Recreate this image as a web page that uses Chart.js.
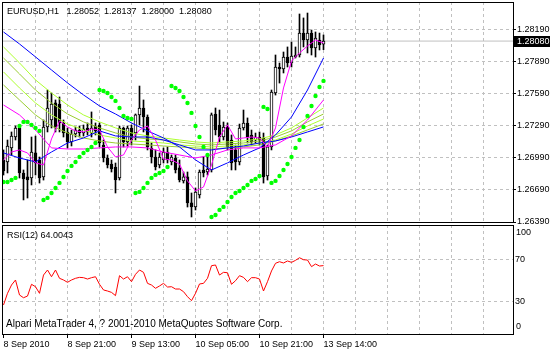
<!DOCTYPE html>
<html>
<head>
<meta charset="utf-8">
<script src="https://cdn.jsdelivr.net/npm/chart.js@4.4.0/dist/chart.umd.min.js"></script>
<style>
  html, body { margin: 0; padding: 0; background: #fff; }
  #wrap { position: relative; width: 550px; height: 351px; overflow: hidden; }
  canvas { position: absolute; left: 0; }
  #main { top: 0; }
  #rsi { top: 223px; }
</style>
</head>
<body>
<div id="wrap">
  <canvas id="main" width="550" height="227"></canvas>
  <canvas id="rsi" width="550" height="128"></canvas>
</div>
<script>
const symbol = 'EURUSD,H1';
const copyright = 'Alpari MetaTrader 4, ? 2001-2010 MetaQuotes Software Corp.';
const timeLabels = ['8 Sep 2010', '8 Sep 21:00', '9 Sep 13:00', '10 Sep 05:00', '10 Sep 21:00', '13 Sep 14:00'];
const labelBars = [0, 16, 32, 48, 64, 80];
const gridBars = [8, 16, 24, 32, 40, 48, 56, 64, 72, 80, 88, 96, 104, 112, 120];
const priceTicks = [1.26390, 1.26690, 1.26990, 1.27290, 1.27590, 1.27890, 1.28190];
const rsiTicks = [30, 70];

// H1 candles
const openP = [
  1.26969, 1.26951, 1.27081, 1.27184, 1.27268, 1.26848, 1.26811, 1.26801, 1.27035, 1.26969,
  1.26811, 1.27277, 1.27343, 1.27502, 1.27492, 1.27315, 1.27231, 1.27137, 1.27212, 1.27249,
  1.27221, 1.27268, 1.27221, 1.27287, 1.27296, 1.27109, 1.26988, 1.26932, 1.26904, 1.26801,
  1.27268, 1.27137, 1.27268, 1.27221, 1.27390, 1.27455, 1.27371, 1.27081, 1.26997, 1.26923,
  1.26969, 1.27044, 1.26951, 1.26988, 1.26895, 1.26773, 1.26811, 1.26568, 1.26530, 1.26642,
  1.26876, 1.26857, 1.26876, 1.27399, 1.27296, 1.27184, 1.27277, 1.27156, 1.27063, 1.26951,
  1.27268, 1.27315, 1.27203, 1.27156, 1.27184, 1.27175, 1.26820, 1.27091, 1.27595, 1.27838,
  1.27819, 1.27931, 1.27875, 1.27931, 1.27950, 1.28155, 1.28090, 1.28155, 1.28015, 1.28090,
  1.28052
];
const highP = [
  1.27063, 1.27156, 1.27231, 1.27287, 1.27287, 1.26876, 1.26969, 1.27184, 1.27193, 1.26997,
  1.27343, 1.27623, 1.27595, 1.27530, 1.27558, 1.27343, 1.27268, 1.27249, 1.27277, 1.27287,
  1.27296, 1.27315, 1.27418, 1.27315, 1.27315, 1.27156, 1.27016, 1.26969, 1.26941, 1.27287,
  1.27277, 1.27287, 1.27296, 1.27399, 1.27660, 1.27530, 1.27390, 1.27128, 1.27063, 1.27035,
  1.27081, 1.27091, 1.27016, 1.27016, 1.26969, 1.26857, 1.26857, 1.26661, 1.26708, 1.26876,
  1.26997, 1.26997, 1.27408, 1.27455, 1.27436, 1.27324, 1.27315, 1.27203, 1.27109, 1.27305,
  1.27436, 1.27362, 1.27249, 1.27221, 1.27231, 1.27221, 1.27109, 1.27623, 1.27950, 1.27875,
  1.27978, 1.28025, 1.28071, 1.28025, 1.28333, 1.28296, 1.28342, 1.28183, 1.28165, 1.28155,
  1.28137
];
const lowP = [
  1.26829, 1.26848, 1.27016, 1.27156, 1.26801, 1.26596, 1.26614, 1.26736, 1.26829, 1.26754,
  1.26782, 1.27231, 1.27268, 1.27231, 1.27231, 1.27184, 1.27081, 1.27100, 1.27184, 1.27184,
  1.27193, 1.27203, 1.27184, 1.27203, 1.27091, 1.26951, 1.26895, 1.26857, 1.26661, 1.26782,
  1.27091, 1.27100, 1.27109, 1.27156, 1.27296, 1.27231, 1.27063, 1.26941, 1.26876, 1.26895,
  1.26941, 1.26941, 1.26923, 1.26848, 1.26764, 1.26754, 1.26530, 1.26437, 1.26502, 1.26614,
  1.26811, 1.26829, 1.26857, 1.27203, 1.27128, 1.27156, 1.27063, 1.26876, 1.26876, 1.26923,
  1.27249, 1.27128, 1.27109, 1.27128, 1.27109, 1.26754, 1.26782, 1.27063, 1.27576, 1.27688,
  1.27782, 1.27838, 1.27838, 1.27922, 1.27931, 1.28025, 1.27969, 1.27950, 1.27931, 1.27997,
  1.28000
];
const closeP = [
  1.26867, 1.27100, 1.27193, 1.27268, 1.26848, 1.26792, 1.26782, 1.27044, 1.26941, 1.26801,
  1.27277, 1.27455, 1.27492, 1.27268, 1.27315, 1.27221, 1.27137, 1.27212, 1.27249, 1.27221,
  1.27259, 1.27231, 1.27268, 1.27240, 1.27128, 1.26988, 1.26923, 1.26885, 1.26782, 1.27268,
  1.27137, 1.27268, 1.27156, 1.27390, 1.27455, 1.27371, 1.27091, 1.26997, 1.26904, 1.26997,
  1.27044, 1.26969, 1.26997, 1.26876, 1.26782, 1.26811, 1.26568, 1.26530, 1.26670, 1.26857,
  1.26848, 1.26885, 1.27390, 1.27249, 1.27184, 1.27277, 1.27091, 1.26941, 1.26951, 1.27268,
  1.27315, 1.27184, 1.27137, 1.27184, 1.27156, 1.26811, 1.27091, 1.27604, 1.27838, 1.27819,
  1.27931, 1.27875, 1.27941, 1.27950, 1.28155, 1.28090, 1.28155, 1.28015, 1.28109, 1.28043,
  1.28080
];

// parabolic SAR, one dot per bar
const sar = [
  1.26764, 1.26764, 1.26783, 1.26802, 1.27287, 1.27325, 1.27325, 1.27297, 1.27269, 1.27241,
  1.26596, 1.26615, 1.26661, 1.26708, 1.26755, 1.26811, 1.26867, 1.26914, 1.26951, 1.26998,
  1.27035, 1.27063, 1.27091, 1.27128, 1.27623, 1.27614, 1.27595, 1.27558, 1.27521, 1.27455,
  1.27381, 1.27362, 1.27352, 1.26661, 1.26671, 1.26708, 1.26755, 1.26802, 1.26830, 1.26848,
  1.26867, 1.26904, 1.27661, 1.27642, 1.27614, 1.27558, 1.27502, 1.27409, 1.27287, 1.27184,
  1.27091, 1.27016, 1.26437, 1.26456, 1.26503, 1.26531, 1.26577, 1.26624, 1.26661, 1.26680,
  1.26708, 1.26736, 1.26774, 1.26792, 1.26820, 1.27465, 1.27446, 1.26755, 1.26774, 1.26820,
  1.26876, 1.26932, 1.26998, 1.27082, 1.27156, 1.27278, 1.27381, 1.27474, 1.27567, 1.27651,
  1.27708
];

// moving averages, read every 4th bar (fast one every 2nd bar)
const maBars = [0, 4, 8, 12, 16, 20, 24, 28, 32, 36, 40, 44, 48, 52, 56, 60, 64, 68, 72, 76, 80];
const fastBars = [0, 2, 4, 6, 8, 10, 12, 14, 16, 18, 20, 22, 24, 26, 28, 30, 32, 34, 36, 38, 40,
  42, 44, 46, 48, 50, 52, 54, 56, 58, 60, 62, 64, 66, 68, 70, 72, 74, 76, 78, 80];
const blueA = [1.28165, 1.28053, 1.27932, 1.27810, 1.27689, 1.27577, 1.27474, 1.27399, 1.27315, 1.27241,
  1.27175, 1.27091, 1.26970, 1.26876, 1.26942, 1.27016, 1.27082, 1.27203, 1.27371, 1.27623, 1.27922];
const blueB = [1.27035, 1.26988, 1.26951, 1.27044, 1.27128, 1.27175, 1.27241, 1.27194, 1.27184, 1.27184,
  1.27156, 1.27110, 1.27063, 1.27063, 1.27082, 1.27100, 1.27128, 1.27147, 1.27184, 1.27231, 1.27278];
const magentaSlow = [1.27483, 1.27390, 1.27250, 1.27082, 1.27072, 1.27072, 1.27082, 1.27091, 1.27091, 1.27082,
  1.27044, 1.27016, 1.26988, 1.27016, 1.27063, 1.27082, 1.27082, 1.27110, 1.27194, 1.27343, 1.27530];
const magentaFast = [
  1.26970, 1.27044, 1.27063, 1.27035, 1.26942, 1.26923, 1.27166, 1.27334, 1.27278, 1.27241,
  1.27231, 1.27259, 1.27250, 1.27091, 1.26998, 1.27016, 1.27156, 1.27250, 1.27287, 1.27156,
  1.26979, 1.26970, 1.26932, 1.26774, 1.26680, 1.26717, 1.26923, 1.27184, 1.27297, 1.27166,
  1.27175, 1.27184, 1.27175, 1.27091, 1.27269, 1.27642, 1.27894, 1.27969, 1.28034, 1.28090,
  1.28062
];
const green1 = [1.28025, 1.27876, 1.27717, 1.27595, 1.27483, 1.27390, 1.27325, 1.27269, 1.27222, 1.27194,
  1.27175, 1.27156, 1.27138, 1.27128, 1.27138, 1.27147, 1.27166, 1.27203, 1.27269, 1.27362, 1.27455];
const green2 = [1.27922, 1.27773, 1.27623, 1.27502, 1.27399, 1.27325, 1.27269, 1.27222, 1.27184, 1.27166,
  1.27156, 1.27138, 1.27119, 1.27110, 1.27119, 1.27128, 1.27147, 1.27184, 1.27241, 1.27325, 1.27399];
const green3 = [1.27792, 1.27642, 1.27502, 1.27390, 1.27306, 1.27250, 1.27203, 1.27175, 1.27147, 1.27138,
  1.27128, 1.27110, 1.27100, 1.27091, 1.27100, 1.27110, 1.27128, 1.27156, 1.27212, 1.27287, 1.27352];
const green4 = [1.27670, 1.27530, 1.27390, 1.27287, 1.27222, 1.27175, 1.27147, 1.27128, 1.27119, 1.27110,
  1.27100, 1.27091, 1.27082, 1.27072, 1.27082, 1.27091, 1.27110, 1.27147, 1.27194, 1.27250, 1.27306];

// RSI(12)
const rsi = [
  26.5, 37.6, 45.5, 50.3, 36.0, 33.4, 35.0, 46.2, 43.9, 37.6,
  55.0, 59.8, 53.4, 59.8, 51.9, 50.3, 48.1, 50.3, 51.9, 52.8,
  52.5, 51.2, 52.5, 53.4, 46.2, 40.8, 39.8, 38.5, 35.4, 54.4,
  51.2, 53.4, 48.7, 55.7, 59.8, 57.6, 47.1, 45.5, 42.4, 44.6,
  47.1, 43.6, 43.9, 41.7, 41.7, 39.2, 34.4, 30.6, 37.6, 46.5,
  47.1, 51.9, 63.9, 64.6, 55.0, 57.6, 57.2, 46.2, 49.6, 54.4,
  52.8, 48.7, 52.5, 52.5, 51.2, 39.8, 48.7, 58.9, 66.2, 67.7,
  66.5, 68.4, 67.1, 69.0, 71.5, 69.6, 69.3, 63.0, 65.5, 63.6,
  64.0043
];

const bars = closeP.map((_, i) => i);
const X_MIN = -0.375, X_MAX = 127.375;   // 4px per bar
const GRID = '#c0c0c0';
const CLEAR = 'rgba(0,0,0,0)';
const FONT = { family: '"Liberation Sans", Arial, sans-serif', size: 9 };
const FONT_CSS = '9px "Liberation Sans", Arial, sans-serif';
const FONT_CSS_10 = '10px "Liberation Sans", Arial, sans-serif';

function pts(xs, ys) {
  return xs.map((x, k) => ({ x: x, y: ys[k] }));
}
function lineSet(label, xs, ys, color, order) {
  return { type: 'line', label, data: pts(xs, ys), borderColor: color, borderWidth: 1,
           pointRadius: 0, tension: 0, fill: false, order };
}
// stop the scales from pushing the plot area in for half-label room
function noPad(s) {
  s.paddingTop = 0; s.paddingBottom = 0; s.paddingLeft = 0; s.paddingRight = 0;
}

const mainFrame = {
  id: 'mainFrame',
  afterDraw(chart) {
    const { ctx, chartArea: a } = chart;
    const last = closeP[closeP.length - 1];
    const py = Math.round(chart.scales.y.getPixelForValue(last));
    ctx.save();
    ctx.strokeStyle = '#000';
    ctx.lineWidth = 1;
    ctx.strokeRect(a.left + 0.5, a.top + 0.5, a.right - a.left, a.bottom - a.top);
    ctx.font = FONT_CSS;
    ctx.textBaseline = 'middle';
    ctx.fillStyle = '#000';
    const ohlc = [openP, highP, lowP, closeP].map(s => s[s.length - 1].toFixed(5)).join('  ');
    ctx.fillText(symbol + '   ' + ohlc, 7, 12);
    // bid tag on the price scale
    ctx.fillRect(a.right + 1, py - 5, 550 - a.right - 1, 11);
    ctx.fillStyle = '#fff';
    ctx.fillText(last.toFixed(5), a.right + 4, py + 0.5);
    ctx.restore();
  }
};

const rsiFrame = {
  id: 'rsiFrame',
  afterDraw(chart) {
    const { ctx, chartArea: a } = chart;
    const ys = chart.scales.y;
    ctx.save();
    ctx.strokeStyle = '#000';
    ctx.lineWidth = 1;
    ctx.strokeRect(a.left + 0.5, a.top + 0.5, a.right - a.left, a.bottom - a.top);
    ctx.font = FONT_CSS;
    ctx.textBaseline = 'middle';
    ctx.fillStyle = '#000';
    ctx.fillText('RSI(12) ' + rsi[rsi.length - 1].toFixed(4), 7, a.top + 11);
    // MetaTrader keeps the 0 and 100 labels inside the window
    ctx.fillText('100', a.right + 3, ys.getPixelForValue(100) + 5);
    ctx.fillText('0', a.right + 3, ys.getPixelForValue(0) - 6);
    ctx.font = FONT_CSS_10;
    ctx.fillText(copyright, 6, a.bottom - 9.5);
    ctx.restore();
  }
};

new Chart(document.getElementById('main'), {
  type: 'bar',
  data: {
    datasets: [
      { type: 'line', label: 'Bid', data: [{ x: X_MIN, y: closeP[80] }, { x: X_MAX, y: closeP[80] }],
        borderColor: GRID, borderWidth: 1, pointRadius: 0, order: 30 },
      { type: 'bar', label: 'Wick', data: bars.map(i => ({ x: i, y: [lowP[i], highP[i]] })),
        backgroundColor: '#000', barThickness: 1, grouped: false, order: 21 },
      { type: 'bar', label: 'Body', data: bars.map(i => ({ x: i, y: [openP[i], closeP[i]] })),
        backgroundColor: bars.map(i => closeP[i] >= openP[i] ? '#fff' : '#000'),
        borderColor: '#000', borderWidth: 1, borderSkipped: false, barThickness: 3,
        grouped: false, minBarLength: 1, order: 20 },
      lineSet('MA 4', maBars, green4, '#9acd32', 9),
      lineSet('MA 3', maBars, green3, '#adff2f', 8),
      lineSet('MA 2', maBars, green2, '#9acd32', 7),
      lineSet('MA 1', maBars, green1, '#adff2f', 6),
      lineSet('Blue slow', maBars, blueB, '#0000ff', 5),
      lineSet('Blue', maBars, blueA, '#0000ff', 4),
      lineSet('Magenta slow', maBars, magentaSlow, '#ff00ff', 3),
      lineSet('Magenta fast', fastBars, magentaFast, '#ff00ff', 2),
      { type: 'line', label: 'Parabolic SAR', data: pts(bars, sar), showLine: false,
        pointRadius: 2.2, pointStyle: 'circle', pointBackgroundColor: '#00ff00',
        pointBorderWidth: 0, order: 0 }
    ]
  },
  options: {
    responsive: false,
    animation: false,
    devicePixelRatio: 1,
    events: [],
    layout: { padding: { left: 2, top: 2, right: 0, bottom: 5 }, autoPadding: false },
    plugins: { legend: { display: false }, tooltip: { enabled: false } },
    scales: {
      x: {
        type: 'linear', min: X_MIN, max: X_MAX, offset: false,
        afterBuildTicks: s => { s.ticks = gridBars.map(v => ({ value: v })); },
        afterFit: s => { s.height = 0; noPad(s); },
        ticks: { display: false },
        grid: { color: GRID, drawTicks: false, offset: false },
        border: { display: false, dash: [3, 3] }
      },
      y: {
        type: 'linear', position: 'right', min: 1.26390, max: 1.28445, beginAtZero: false,
        afterBuildTicks: s => { s.ticks = priceTicks.map(v => ({ value: v })); },
        afterFit: s => { s.width = 37; noPad(s); },
        ticks: { font: FONT, color: '#000', padding: 1, callback: v => v.toFixed(5) },
        grid: { color: GRID, tickColor: '#000', tickLength: 3, tickBorderDash: [] },
        border: { display: false, dash: [3, 3] }
      }
    }
  },
  plugins: [mainFrame]
});

new Chart(document.getElementById('rsi'), {
  type: 'line',
  data: {
    datasets: [
      { label: 'RSI(12)', data: pts(bars, rsi), borderColor: '#ff0000', borderWidth: 1,
        pointRadius: 0, tension: 0, fill: false }
    ]
  },
  options: {
    responsive: false,
    animation: false,
    devicePixelRatio: 1,
    events: [],
    layout: { padding: { left: 2, top: 2, right: 0, bottom: 0 }, autoPadding: false },
    plugins: { legend: { display: false }, tooltip: { enabled: false } },
    scales: {
      x: {
        type: 'linear', min: X_MIN, max: X_MAX, offset: false,
        afterBuildTicks: s => { s.ticks = [0].concat(gridBars).map(v => ({ value: v })); },
        afterFit: s => { s.height = 17; noPad(s); },
        ticks: {
          font: FONT, color: '#000', padding: 1, align: 'start', autoSkip: false,
          maxRotation: 0, minRotation: 0,
          callback: v => { const k = labelBars.indexOf(v); return k >= 0 ? timeLabels[k] : ''; }
        },
        grid: {
          color: c => (c.tick && c.tick.value === 0) ? CLEAR : GRID,
          tickColor: c => (c.tick && labelBars.includes(c.tick.value)) ? '#000' : CLEAR,
          tickLength: 4, tickBorderDash: [], offset: false
        },
        border: { display: false, dash: [3, 3] }
      },
      y: {
        type: 'linear', position: 'right', min: -1.14, max: 102.67,
        afterBuildTicks: s => { s.ticks = rsiTicks.map(v => ({ value: v })); },
        afterFit: s => { s.width = 37; noPad(s); },
        ticks: { font: FONT, color: '#000', padding: 2 },
        grid: { color: GRID, drawTicks: false },
        border: { display: false, dash: [3, 3] }
      }
    }
  },
  plugins: [rsiFrame]
});
</script>
</body>
</html>
